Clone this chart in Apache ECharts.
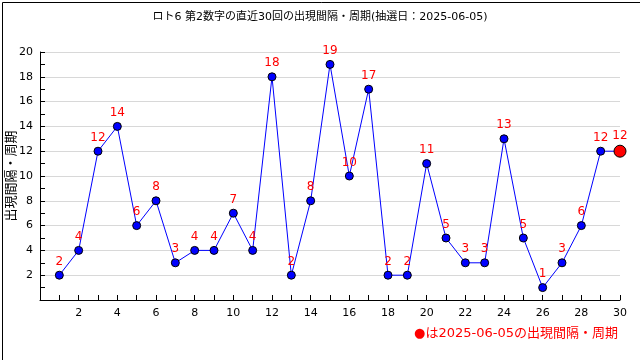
<!DOCTYPE html>
<html><head><meta charset="utf-8">
<script src="https://cdn.jsdelivr.net/npm/echarts@6/dist/echarts.min.js"></script>
<style>html,body{margin:0;padding:0;background:#fff}#c{width:640px;height:360px}</style>
</head><body><div id="c"></div>
<script>
const titleText = 'ロト6 第2数字の直近30回の出現間隔・周期(抽選日：2025-06-05)';
const yName = '出現間隔・周期';
const legendText = '●は2025-06-05の出現間隔・周期';
const draws = [1,2,3,4,5,6,7,8,9,10,11,12,13,14,15,16,17,18,19,20,21,22,23,24,25,26,27,28,29,30];
const intervals = [2,4,12,14,6,8,3,4,4,7,4,18,2,8,19,10,17,2,2,11,5,3,3,13,5,1,3,6,12,12];

const FONT = '"DejaVu Sans","Noto Sans CJK JP",sans-serif';
const data = draws.map((d,i)=>{
  const last = i === draws.length-1;
  return {
    value:[d, intervals[i]],
    symbolSize: last ? 12 : 8,
    itemStyle: last ? {color:'#ff0000', borderColor:'#000', borderWidth:1} : undefined
  };
});
const chart = echarts.init(document.getElementById('c'));
chart.setOption({
  animation:false,
  backgroundColor:'#fff',
  title:{text:titleText, left:'center', top:7, textStyle:{fontSize:11, fontWeight:'normal', color:'#000', fontFamily:FONT}},
  grid:{left:40, right:20, top:52, bottom:60, containLabel:false, outerBoundsMode:'none'},
  xAxis:{type:'value', min:0, max:30, interval:1,
    axisLine:{lineStyle:{color:'#000'}},
    axisTick:{inside:true, length:5, lineStyle:{color:'#000'}},
    axisLabel:{color:'#000', fontSize:11, fontFamily:FONT, margin:8,
      formatter:v => (v>0 && v%2===0) ? String(v) : ''},
    splitLine:{show:false}},
  yAxis:{type:'value', min:0, max:20, interval:2,
    axisLine:{show:true, lineStyle:{color:'#000'}},
    axisTick:{show:true, inside:true, length:5, lineStyle:{color:'#000'}},
    minorTick:{show:true, splitNumber:2, length:5, lineStyle:{color:'#000'}},
    axisLabel:{color:'#000', fontSize:11, fontFamily:FONT, margin:7, formatter:v => v===0 ? '' : String(v)},
    splitLine:{show:true, lineStyle:{color:'#d8d8d8', width:1}}},
  series:[{
    type:'line', data:data, symbol:'circle', symbolSize:8,
    lineStyle:{color:'#0000ff', width:1},
    itemStyle:{color:'#0000ff', borderColor:'#000', borderWidth:1},
    label:{show:true, position:'top', distance:3, color:'#ff0000', fontSize:12, fontFamily:FONT,
      formatter:p => String(p.value[1])},
    z:3
  }],
  graphic:[
    {type:'rect', left:0, top:0, shape:{width:639, height:359}, style:{fill:null, stroke:'#000', lineWidth:1}, silent:true},
    {type:'text', x:12, y:176, rotation:Math.PI/2,
      style:{text:yName, fill:'#000', font:'13px '+FONT, align:'center', verticalAlign:'middle'}},
    {type:'text', right:22, top:327, style:{text:legendText, fill:'#ff0000', font:'13px '+FONT}}
  ]
});
</script></body></html>
